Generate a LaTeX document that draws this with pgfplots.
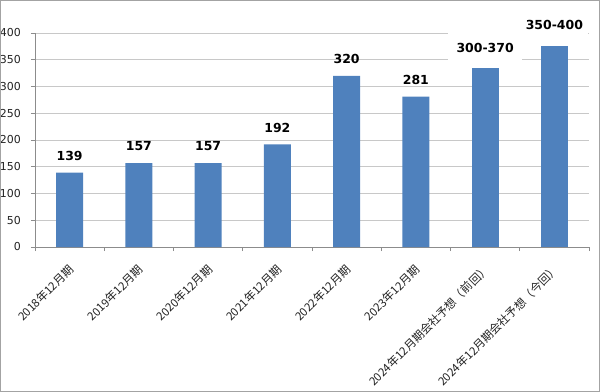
\documentclass[border=0pt]{standalone}
\usepackage{fontspec}
\setmainfont{DejaVu Sans}
\newfontfamily\cjk{Noto Sans CJK JP}
\usepackage{pgfplots}
\pgfplotsset{compat=1.18}
\usetikzlibrary{calc}
\definecolor{barblue}{HTML}{4F81BD}
\definecolor{gridgray}{HTML}{C8C8C8}
\definecolor{axgray}{HTML}{8C8C8C}
\definecolor{txt}{HTML}{222222}
\begin{document}
\begin{tikzpicture}
\begin{axis}[name=ax,
  scale only axis, width=554bp, height=214bp,
  xmin=-0.5, xmax=7.5, ymin=0, ymax=400,
  ytick={0,50,...,400},
  /pgf/number format/assume math mode=true,
  ymajorgrids, grid style={draw=gridgray, line width=0.7pt},
  axis lines*=left, axis line style={draw=axgray, line width=0.7pt},
  tick style={draw=axgray, line width=0.7pt},
  tick align=outside, major tick length=4bp,
  xtick={0,...,7},
  xticklabels={2018年12月期,2019年12月期,2020年12月期,2021年12月期,2022年12月期,2023年12月期,2024年12月期会社予想（前回）,2024年12月期会社予想（今回）},
  major x tick style={draw=none},
  minor xtick={-0.5,0.5,...,7.5},
  minor tick length=4bp,
  xticklabel style={rotate=45, anchor=north east, inner sep=0pt, font=\cjk\fontsize{11.5}{11.5}\selectfont, text=txt, xshift=-10bp, yshift=-7.5bp},
  yticklabel style={font=\fontsize{11}{11}\selectfont, text=txt, inner sep=0pt, xshift=-10bp},
  ybar, bar width=27bp, bar shift=0pt,
  point meta=explicit symbolic,
  nodes near coords={\pgfplotspointmeta},
  clip=false,
]
\addplot[fill=barblue, draw=none,
  every node near coord/.style={anchor=center, yshift=16.5bp, font=\bfseries\fontsize{12.5}{12.5}\selectfont, text=black}]
  coordinates {(0,139) [139] (1,157) [157] (2,157) [157] (3,192) [192] (4,320) [320] (5,281) [281]};
\addplot[fill=barblue, draw=none,
  every node near coord/.style={anchor=center, yshift=20bp, fill=white, minimum width=74bp, minimum height=34bp, font=\bfseries\fontsize{12.5}{12.5}\selectfont, text=black}]
  coordinates {(6,335) [300-370]};
\addplot[fill=barblue, draw=none,
  every node near coord/.style={anchor=center, yshift=21bp, fill=white, minimum width=68bp, minimum height=20bp, font=\bfseries\fontsize{12.5}{12.5}\selectfont, text=black}]
  coordinates {(7,375) [350-400]};
\end{axis}
\pgfresetboundingbox
\useasboundingbox ($(ax.south west)+(-35bp,-145bp)$) rectangle ($(ax.south west)+(565bp,247bp)$);
\draw[draw=axgray!80, line width=0.8pt] ($(ax.south west)+(-34.6bp,-144.6bp)$) rectangle ($(ax.south west)+(564.6bp,246.6bp)$);
\end{tikzpicture}
\end{document}
